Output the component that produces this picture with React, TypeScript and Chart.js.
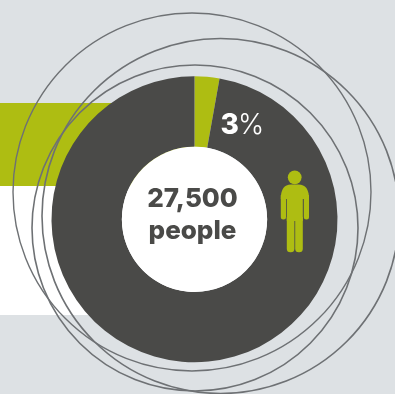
import React, { useEffect, useRef } from "react";
import { Chart, registerables } from "chart.js";

Chart.register(...registerables);

const categories = ["Share", "Rest"];
const shareValues = [2.8, 97.2];
const sliceColors = ["#AEBD12", "#4A4A48"];
const centerLines = ["27,500", "people"];
const shareBold = "3";
const shareUnit = "%";

const rings: number[][] = [
  [192, 192, 179, 179, 1.4],
  [195, 228, 163, 163, 1.6],
  [220.5, 216, 178.5, 177.5, 1.6],
];

const decor = {
  id: "decor",
  beforeDraw(chart: any) {
    const c = chart.ctx;
    c.save();
    c.fillStyle = "#DDE1E4";
    c.fillRect(0, 0, 395, 394);
    c.fillStyle = "#AEBD12";
    c.fillRect(0, 103, 194, 83);
    c.fillStyle = "#FFFFFF";
    c.fillRect(0, 186, 194, 129);
    c.restore();
  },
  afterDatasetsDraw(chart: any) {
    const c = chart.ctx;
    const arc = chart.getDatasetMeta(0).data[0];
    c.save();
    c.fillStyle = "#FFFFFF";
    c.beginPath();
    c.arc(arc.x, arc.y, arc.innerRadius, 0, Math.PI * 2);
    c.fill();

    c.strokeStyle = "#6E7174";
    for (const [x, y, rx, ry, w] of rings) {
      c.lineWidth = w;
      c.beginPath();
      c.ellipse(x, y, rx, ry, 0, 0, Math.PI * 2);
      c.stroke();
    }

    c.textAlign = "center";
    c.textBaseline = "alphabetic";
    c.fillStyle = "#4A4A48";
    c.font = "800 26px Inter, 'Open Sans', sans-serif";
    c.fillText(centerLines[0], 192.5, 206.5);
    c.fillText(centerLines[1], 192.5, 238.5);

    c.textAlign = "left";
    c.fillStyle = "#FFFFFF";
    c.font = "800 28px Inter, 'Open Sans', sans-serif";
    c.fillText(shareBold, 220.5, 133.5);
    c.font = "300 28px Inter, 'Open Sans', sans-serif";
    c.fillText(shareUnit, 238, 133.5);

    c.fillStyle = "#AEBD12";
    c.beginPath();
    c.arc(294.7, 177.3, 6.9, 0, Math.PI * 2);
    c.fill();
    // shoulders
    c.beginPath();
    c.moveTo(280.8, 199);
    c.quadraticCurveTo(280.8, 184.6, 291, 184.6);
    c.lineTo(298.5, 184.6);
    c.quadraticCurveTo(309, 184.6, 309, 199);
    c.closePath();
    c.fill();
    // arms
    c.beginPath();
    c.roundRect(280.8, 195, 5.2, 24.4, [0, 0, 2.5, 2.5]);
    c.fill();
    c.beginPath();
    c.roundRect(303.8, 195, 5.2, 24.4, [0, 0, 2.5, 2.5]);
    c.fill();
    // torso and legs
    c.fillRect(286.8, 195, 16, 26);
    c.beginPath();
    c.roundRect(286.8, 217, 7.6, 35.3, [0, 0, 3.6, 3.6]);
    c.fill();
    c.beginPath();
    c.roundRect(295.2, 217, 7.6, 35.3, [0, 0, 3.6, 3.6]);
    c.fill();
    c.restore();
  },
};

export default function App() {
  const ref = useRef<HTMLCanvasElement>(null);
  useEffect(() => {
    document.body.style.margin = "0";
    const chart = new Chart(ref.current!, {
      type: "doughnut",
      data: {
        labels: categories,
        datasets: [
          {
            data: shareValues,
            backgroundColor: sliceColors,
            borderWidth: 0,
          },
        ],
      },
      options: {
        responsive: false,
        animation: false,
        cutout: "50.8%",
        layout: { padding: { left: 51.5, right: 57.5, top: 76.3, bottom: 31.7 } },
        plugins: { legend: { display: false }, tooltip: { enabled: false } },
      },
      plugins: [decor],
    });
    return () => chart.destroy();
  }, []);
  return <canvas ref={ref} width={395} height={394} style={{ display: "block" }} />;
}
